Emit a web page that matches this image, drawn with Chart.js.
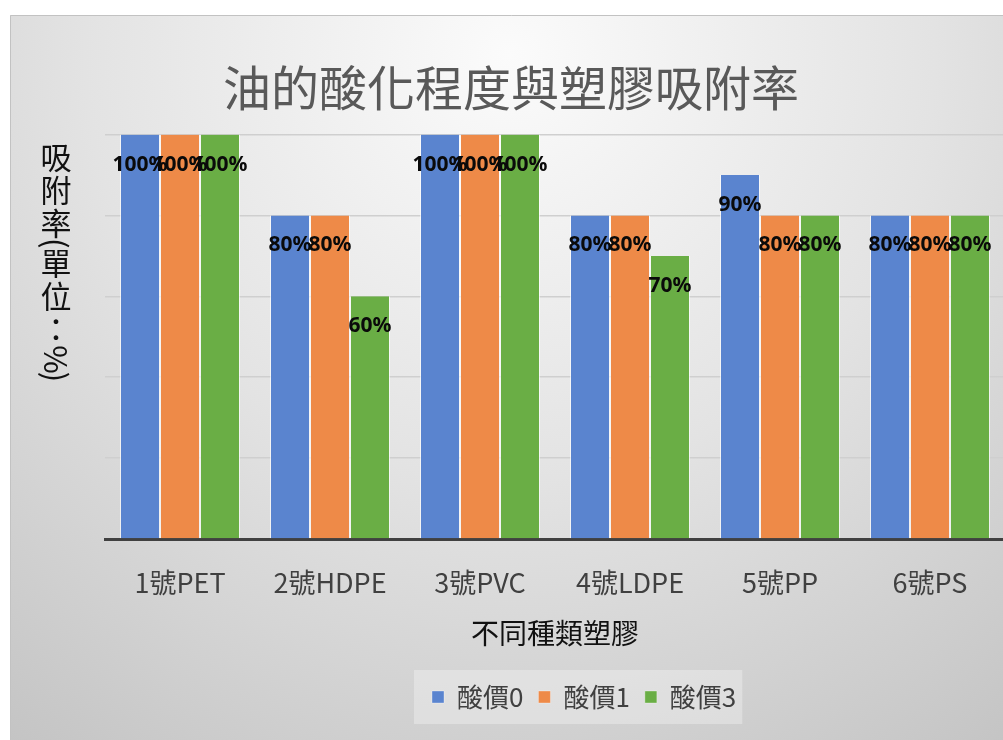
<!DOCTYPE html>
<html>
<head>
<meta charset="utf-8">
<script src="https://cdn.jsdelivr.net/npm/chart.js@4.4.1/dist/chart.umd.min.js"></script>
<style>
  html, body { margin: 0; padding: 0; background: #fff; overflow: hidden; }
  #wrap { position: absolute; left: 10px; top: 15px; width: 1002px; height: 725px; }
</style>
</head>
<body>
<div id="wrap"><canvas id="chart" width="1002" height="725"></canvas></div>
<script>
// data
const categories = ['1號PET', '2號HDPE', '3號PVC', '4號LDPE', '5號PP', '6號PS'];
const seriesNames = ['酸價0', '酸價1', '酸價3'];
const acid0 = [100, 80, 100, 80, 90, 80];
const acid1 = [100, 80, 100, 80, 80, 80];
const acid3 = [100, 60, 100, 70, 80, 80];
const yTicks = [0, 20, 40, 60, 80, 100];

const CJK = '"Noto Sans CJK TC", "Noto Sans", sans-serif';
const colors = ['#5a84cf', '#ee8a48', '#6aae45'];

// background, frame and legend box
const backdrop = {
  id: 'backdrop',
  afterUpdate(chart) {
    // move the legend items to where the original has them
    const lg = chart.legend;
    const hb = lg && lg.legendHitBoxes;
    if (!hb || !hb.length) return;
    const minX = Math.min(...hb.map(b => b.left));
    const cy = hb[0].top + hb[0].height / 2;
    const dx = 422 - minX, dy = 682 - cy;
    lg.left += dx; lg.right += dx; lg.top += dy; lg.bottom += dy;
    hb.forEach(b => { b.left += dx; b.top += dy; });
  },
  beforeDraw(chart) {
    const { ctx, width, height } = chart;
    ctx.save();
    const g = ctx.createRadialGradient(500, 40, 0, 500, 40, 850);
    g.addColorStop(0, '#fbfbfb');
    g.addColorStop(0.5, '#e3e3e3');
    g.addColorStop(1, '#c4c4c4');
    ctx.fillStyle = g;
    ctx.fillRect(0, 0, width, height);
    ctx.strokeStyle = '#c2c2c2';
    ctx.lineWidth = 1;
    ctx.beginPath();
    ctx.moveTo(0.5, height);
    ctx.lineTo(0.5, 0.5);
    ctx.lineTo(width, 0.5);
    ctx.stroke();

    const boxes = chart.legend && chart.legend.legendHitBoxes;
    if (boxes && boxes.length) {
      const minX = Math.min(...boxes.map(b => b.left));
      const maxX = Math.max(...boxes.map(b => b.left + b.width));
      const cy = boxes[0].top + boxes[0].height / 2;
      ctx.fillStyle = 'rgba(255,255,255,0.3)';
      ctx.fillRect(minX - 18, cy - 27, maxX - minX + 24, 54);
    }
    ctx.restore();
  }
};

// value labels inside the bar tops
const valueLabels = {
  id: 'valueLabels',
  afterDatasetsDraw(chart) {
    const { ctx } = chart;
    ctx.save();
    ctx.font = 'bold 21px "Noto Sans", sans-serif';
    ctx.fillStyle = '#0a0a0a';
    ctx.textAlign = 'center';
    ctx.textBaseline = 'middle';
    chart.data.datasets.forEach((ds, i) => {
      chart.getDatasetMeta(i).data.forEach((bar, j) => {
        ctx.fillText(ds.data[j] + '%', bar.x, bar.y + 30);
      });
    });
    ctx.restore();
  }
};

// vertical stacked y-axis title
const yTitle = {
  id: 'yTitle',
  afterDraw(chart) {
    const { ctx } = chart;
    const text = '吸附率(單位：%)';
    const size = 31;
    ctx.save();
    ctx.font = size + 'px ' + CJK;
    ctx.fillStyle = '#111';
    ctx.textAlign = 'center';
    ctx.textBaseline = 'middle';
    const x = 46;
    let y = 126;
    for (const ch of text) {
      if ('()%'.includes(ch)) {
        const w = ctx.measureText(ch).width;
        const adv = ch === '%' ? w : w * 0.6;
        ctx.save();
        ctx.translate(x, y + adv / 2);
        ctx.rotate(Math.PI / 2);
        ctx.fillText(ch, 0, 0);
        ctx.restore();
        y += adv;
      } else {
        ctx.fillText(ch, x, y + 16.5);
        y += 33;
      }
    }
    ctx.restore();
  }
};

new Chart(document.getElementById('chart'), {
  type: 'bar',
  data: {
    labels: categories,
    datasets: [acid0, acid1, acid3].map((d, i) => ({
      label: seriesNames[i],
      data: d,
      backgroundColor: colors[i],
      borderColor: 'rgba(255,255,255,0.65)',
      borderWidth: { left: 1, right: 1, top: 0, bottom: 0 },
      categoryPercentage: 0.8,
      barPercentage: 1.0
    }))
  },
  options: {
    responsive: false,
    animation: false,
    layout: { padding: { left: 7, right: 7, top: 0, bottom: 15 } },
    plugins: {
      tooltip: { enabled: false },
      title: {
        display: true,
        text: '油的酸化程度與塑膠吸附率',
        color: '#595959',
        font: { family: CJK, size: 48, weight: 'normal' },
        padding: { top: 44, bottom: 18 }
      },
      legend: {
        position: 'bottom',
        fullSize: false,
        labels: {
          color: '#404040',
          font: { family: CJK, size: 26 },
          boxWidth: 12,
          boxHeight: 12,
          padding: 15
        }
      }
    },
    scales: {
      x: {
        z: 1,
        afterFit(axis) { axis.height = 135; },
        grid: { display: false, drawTicks: false },
        border: { display: true, color: '#404040', width: 3 },
        ticks: { color: '#404040', font: { family: CJK, size: 27 }, padding: 28 },
        title: {
          display: true,
          text: '不同種類塑膠',
          color: '#111',
          font: { family: CJK, size: 28 },
          padding: { top: 0, bottom: 24 }
        }
      },
      y: {
        min: 0,
        max: 100,
        afterFit(axis) { axis.width = 88; },
        afterBuildTicks(axis) { axis.ticks = yTicks.map(v => ({ value: v })); },
        ticks: { display: false },
        border: { display: false },
        grid: { color: '#cfcfcf', lineWidth: 1.5, drawTicks: false }
      }
    }
  },
  plugins: [backdrop, valueLabels, yTitle]
});
</script>
</body>
</html>
